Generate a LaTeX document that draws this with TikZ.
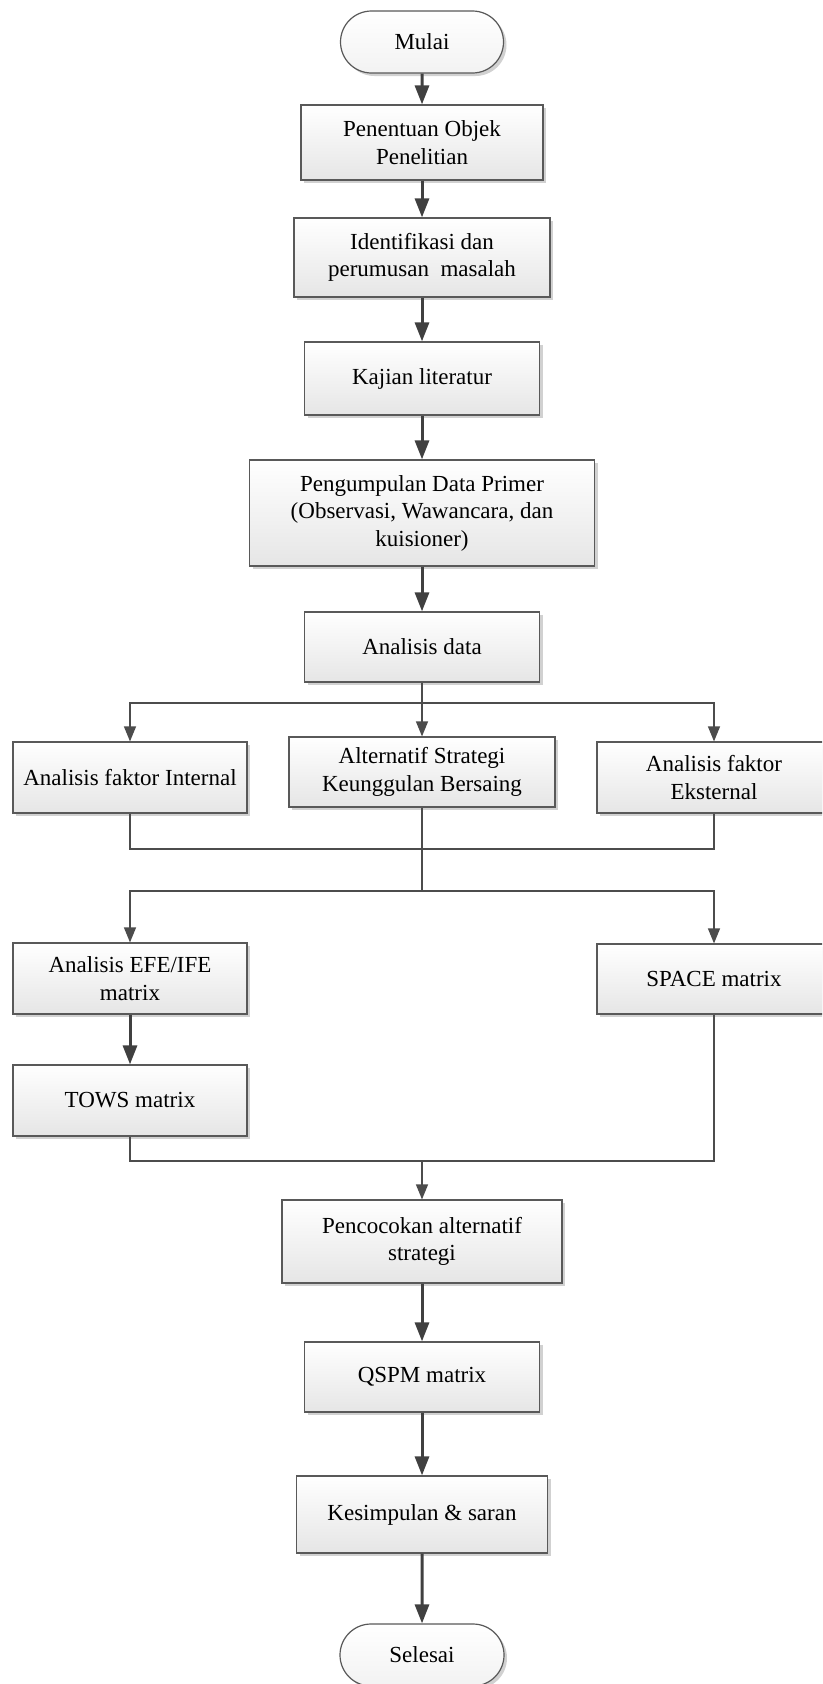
\documentclass[tikz,border=0pt]{standalone}
\usepackage{fontspec}
\setmainfont{Liberation Serif}
\usetikzlibrary{arrows.meta,shapes.misc,shadows}
\tikzset{
  procbox/.style={draw=black!65, line width=1.2pt, top color=white, bottom color=black!10,
    drop shadow={shadow xshift=3pt, shadow yshift=-3pt, fill=black!18, opacity=1},
    align=center, inner sep=2pt, font=\fontsize{23}{27.5}\selectfont},
  termbox/.style={procbox, rounded rectangle, top color=white, bottom color=black!5},
  mainarrow/.style={draw=black!75, line width=3pt, -{Triangle[width=14pt,length=19pt]}},
  thinline/.style={draw=black!70, line width=1.3pt},
  thinarrow/.style={thinline, -{Triangle[width=12pt,length=15pt]}},
}
\begin{document}
\begin{tikzpicture}[x=1pt, y=-1pt]
      \clip (0,0) rectangle (822,1684);
      \node[termbox, minimum width=167pt, minimum height=62pt] (mulai) at (422,42) {Mulai};
      \node[procbox, minimum width=242pt, minimum height=75pt] (penentuan) at (422,142.5) {Penentuan Objek\\Penelitian};
      \node[procbox, minimum width=256pt, minimum height=79pt] (identifikasi) at (422,257.5) {Identifikasi dan\\perumusan\ \ masalah};
      \node[procbox, minimum width=235pt, minimum height=73pt] (kajian) at (422,378.5) {Kajian literatur};
      \node[procbox, minimum width=345pt, minimum height=106pt] (pengumpulan) at (422,513) {Pengumpulan Data Primer\\(Observasi, Wawancara, dan\\kuisioner)};
      \node[procbox, minimum width=235pt, minimum height=70pt] (analisis) at (422,647) {Analisis data};
      \node[procbox, minimum width=234pt, minimum height=71pt] (internal) at (130,777.5) {Analisis faktor Internal};
      \node[procbox, minimum width=266pt, minimum height=70pt] (alternatif) at (422,772) {Alternatif Strategi\\Keunggulan Bersaing};
      \node[procbox, minimum width=234pt, minimum height=71pt] (eksternal) at (714,777.5) {Analisis faktor\\Eksternal};
      \node[procbox, minimum width=234pt, minimum height=71pt] (efe) at (130,978.5) {Analisis EFE/IFE\\matrix};
      \node[procbox, minimum width=234pt, minimum height=70pt] (space) at (714,979) {SPACE matrix};
      \node[procbox, minimum width=234pt, minimum height=71pt] (tows) at (130,1100.5) {TOWS matrix};
      \node[procbox, minimum width=280pt, minimum height=83pt] (pencocokan) at (422,1241.5) {Pencocokan alternatif\\strategi};
      \node[procbox, minimum width=235pt, minimum height=70pt] (qspm) at (422,1377) {QSPM matrix};
      \node[procbox, minimum width=251pt, minimum height=77pt] (kesimpulan) at (422,1514.5) {Kesimpulan \& saran};
      \node[termbox, minimum width=168pt, minimum height=62pt] (selesai) at (422,1655) {Selesai};
      \coordinate (split1) at (422,703);
      \coordinate (merge1) at (422,849);
      \coordinate (split2) at (422,891);
      \coordinate (merge2) at (422,1161);
      % main flow
      \begin{scope}[mainarrow]
        \draw (mulai) to (penentuan);
        \draw (penentuan) to (identifikasi);
        \draw (identifikasi) to (kajian);
        \draw (kajian) to (pengumpulan);
        \draw (pengumpulan) to (analisis);
        \draw (efe) to (tows);
        \draw (pencocokan) to (qspm);
        \draw (qspm) to (kesimpulan);
        \draw (kesimpulan) to (selesai);
      \end{scope}
      % branches
      \draw[thinarrow] (analisis.south) -- (alternatif.north);
      \draw[thinarrow] (split1) -| (internal.north);
      \draw[thinarrow] (split1) -| (eksternal.north);
      \draw[thinline] (internal.south) |- (merge1) -| (eksternal.south);
      \draw[thinline] (alternatif.south) -- (split2);
      \draw[thinarrow] (split2) -| (efe.north);
      \draw[thinarrow] (split2) -| (space.north);
      \draw[thinline] (tows.south) |- (merge2) -| (space.south);
      \draw[thinarrow] (merge2) -- (pencocokan.north);
    \end{tikzpicture}
\end{document}
